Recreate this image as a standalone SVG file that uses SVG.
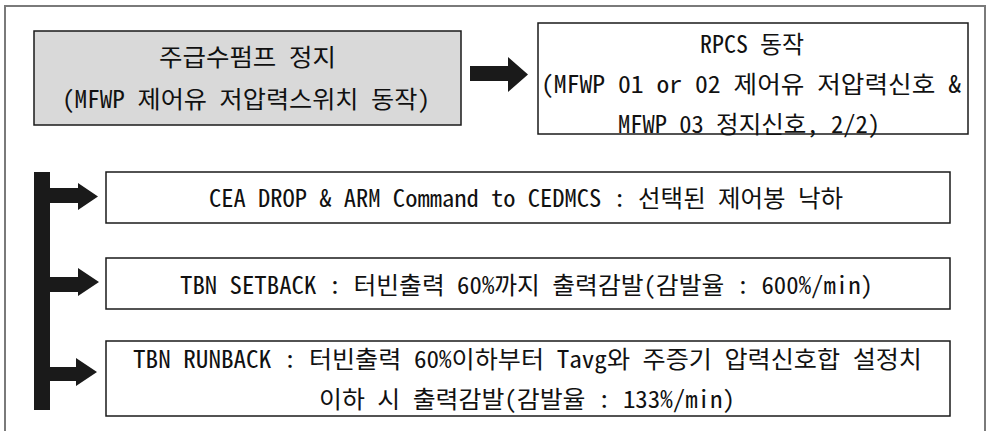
<svg xmlns="http://www.w3.org/2000/svg" width="990" height="431" viewBox="0 0 990 431">
  <style>
    .frame { fill: none; stroke: #7a7a7a; stroke-width: 2; }
    .box { fill: #ffffff; stroke: #1a1a1a; stroke-width: 1.5; }
    .box.gray { fill: #d9d9d9; }
    .arrow { fill: #1a1a1a; }
    text { font-family: "Noto Sans Mono CJK KR", "Noto Sans CJK KR", "DejaVu Sans Mono", monospace; font-size: 24px; fill: #111; }
  </style>
  <rect width="990" height="431" fill="#ffffff"/>
  <!-- outer frame (bottom edge runs off the page) -->
  <rect class="frame" x="5" y="6" width="980" height="440"/>

  <g id="pump-stop">
    <rect class="box gray" x="34" y="31" width="427" height="94"/>
    <text x="159" y="66" textLength="177" lengthAdjust="spacingAndGlyphs">주급수펌프 정지</text>
    <text x="62" y="108" textLength="368" lengthAdjust="spacingAndGlyphs">(MFWP 제어유 저압력스위치 동작)</text>
  </g>

  <g id="rpcs">
    <rect class="box" x="538" y="23" width="430" height="111"/>
    <text x="700" y="53" textLength="104" lengthAdjust="spacingAndGlyphs">RPCS 동작</text>
    <text x="541" y="93" textLength="420" lengthAdjust="spacingAndGlyphs">(MFWP 01 or 02 제어유 저압력신호 &amp;</text>
    <text x="618" y="133" textLength="262" lengthAdjust="spacingAndGlyphs">MFWP 03 정지신호, 2/2)</text>
  </g>

  <g id="cea-drop">
    <rect class="box" x="106" y="172" width="844" height="51"/>
    <text x="209" y="207" textLength="634" lengthAdjust="spacingAndGlyphs">CEA DROP &amp; ARM Command to CEDMCS : 선택된 제어봉 낙하</text>
  </g>

  <g id="tbn-setback">
    <rect class="box" x="106" y="258" width="844" height="51"/>
    <text x="180" y="294" textLength="693" lengthAdjust="spacingAndGlyphs">TBN SETBACK : 터빈출력 60%까지 출력감발(감발율 : 600%/min)</text>
  </g>

  <g id="tbn-runback">
    <rect class="box" x="106" y="341" width="844" height="75"/>
    <text x="133" y="368" textLength="789" lengthAdjust="spacingAndGlyphs">TBN RUNBACK : 터빈출력 60%이하부터 Tavg와 주증기 압력신호합 설정치</text>
    <text x="319" y="408" textLength="416" lengthAdjust="spacingAndGlyphs">이하 시 출력감발(감발율 : 133%/min)</text>
  </g>

  <g id="connectors">
    <!-- pump stop to RPCS -->
    <polygon class="arrow" points="470,66 508,66 508,57 528,74.5 508,92 508,81 470,81"/>
    <!-- branch bar feeding the three actions -->
    <rect class="arrow" x="34" y="172" width="16" height="238"/>
    <polygon class="arrow" points="50,188 78,188 78,183 98,196.5 78,210 78,203 50,203"/>
    <polygon class="arrow" points="50,277 78,277 78,268 99,282 78,296 78,292 50,292"/>
    <polygon class="arrow" points="50,367 76,367 76,358 97,372 76,386 76,381 50,381"/>
  </g>
</svg>
